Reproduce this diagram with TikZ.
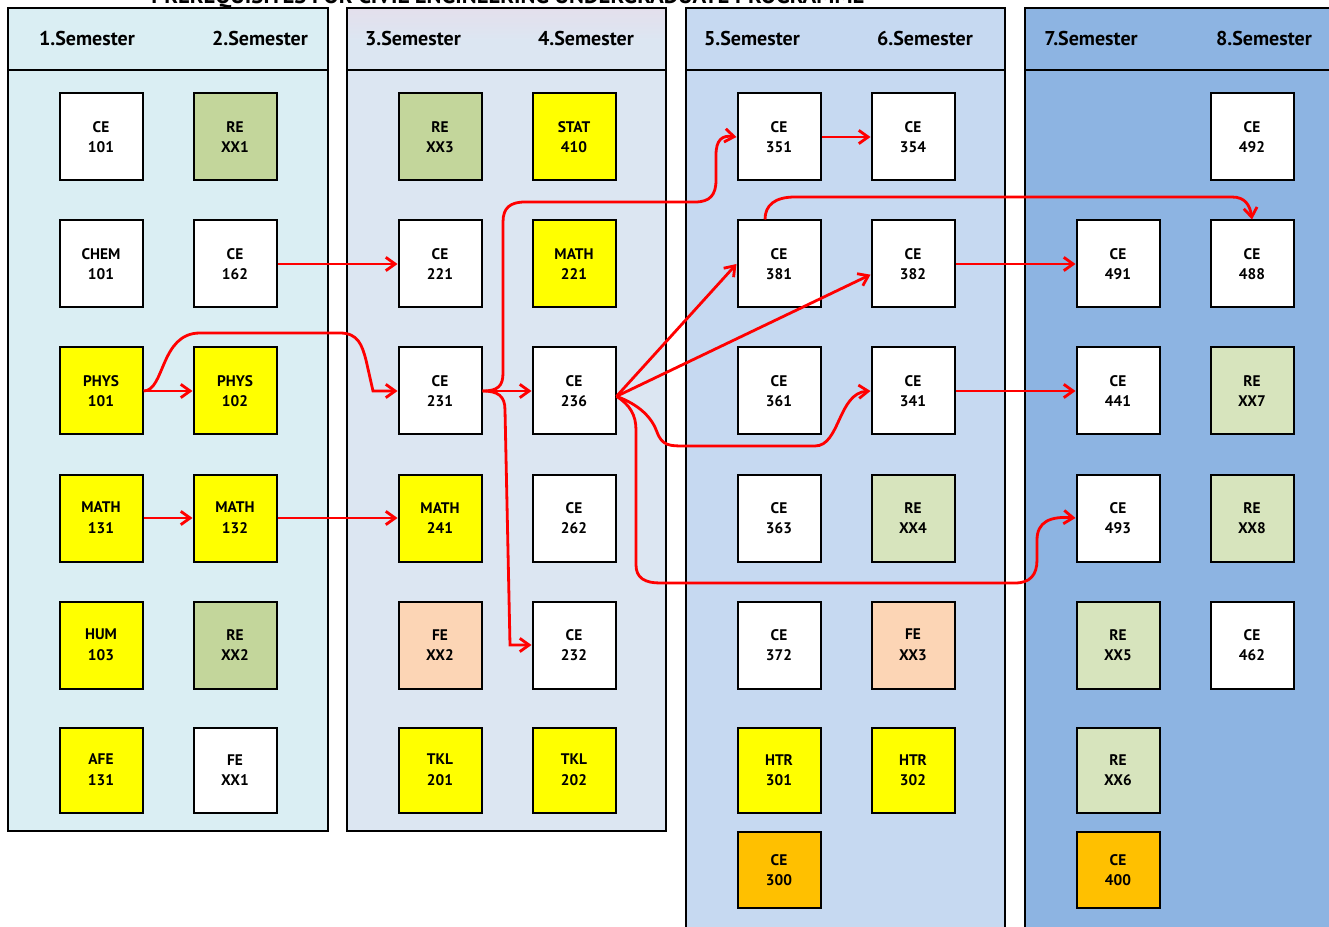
\documentclass[tikz,border=0pt]{standalone}
\usepackage{fontspec}
\setmainfont{PT Sans}
\usetikzlibrary{arrows.meta}
\definecolor{pA}{HTML}{DAEEF3}
\definecolor{pB}{HTML}{DCE6F2}
\definecolor{pBtop}{HTML}{E4DFEC}
\definecolor{pC}{HTML}{C6D9F1}
\definecolor{pD}{HTML}{8DB4E2}
\definecolor{cyel}{HTML}{FFFF00}
\definecolor{cgrA}{HTML}{C3D69B}
\definecolor{cgrB}{HTML}{D7E4BD}
\definecolor{cpea}{HTML}{FCD5B5}
\definecolor{cora}{HTML}{FFC000}
\definecolor{cred}{HTML}{FF0000}
\begin{document}
\begin{tikzpicture}[x=0.75pt,y=-0.75pt,
  panel/.style={draw=black, line width=1.5pt},
  semtext/.style={font=\bfseries\fontsize{15}{17}\selectfont, inner sep=0pt},
  course/.style={draw=black, line width=1.5pt, minimum width=62.25pt, minimum height=65.25pt,
    inner sep=0pt, align=center, font=\bfseries\fontsize{11.5}{15.5}\selectfont, fill=white},
  shortc/.style={course, minimum height=63.75pt},
  tinyc/.style={course, minimum height=57pt},
  conn/.style={draw=cred, line width=2.1pt, -{Straight Barb[length=7pt,width=10pt]}}]
\useasboundingbox (0,0) rectangle (1329,927);
\clip (0,0) rectangle (1329,927);
\fill[white] (0,0) rectangle (1329,927);
% title (cut off at the top, as in the reference)
\node[anchor=base, inner sep=0pt, font=\bfseries\fontsize{17}{19}\selectfont] (title) at (508,4) {PREREQUISITES FOR CIVIL ENGINEERING UNDERGRADUATE PROGRAMME};
% panels
\fill[pA] (8,8) rectangle (328,831);
\fill[pB] (347,8) rectangle (666,831);
\shade[top color=pBtop, bottom color=pB] (347,8) rectangle (666,40);
\fill[pC] (686,8) rectangle (1005,945);
\fill[pD] (1025,8) rectangle (1345,945);
\draw[panel] (8,8) rectangle (328,831) (8,70) -- (328,70);
\draw[panel] (347,8) rectangle (666,831) (347,70) -- (666,70);
\draw[panel] (686,945) -- (686,8) -- (1005,8) -- (1005,945) (686,70) -- (1005,70);
\draw[panel] (1025,945) -- (1025,8) -- (1345,8) (1025,70) -- (1345,70);
% semester headings
\node[semtext] (s1) at (87,39) {1.Semester};
\node[semtext] (s2) at (260,39) {2.Semester};
\node[semtext] (s3) at (413,39) {3.Semester};
\node[semtext] (s4) at (586,39) {4.Semester};
\node[semtext] (s5) at (752,39) {5.Semester};
\node[semtext] (s6) at (925,39) {6.Semester};
\node[semtext] (s7) at (1091,39) {7.Semester};
\node[semtext] (s8) at (1264,39) {8.Semester};
% column 1
\node[course] (ce101) at (101,137) {CE\\101};
\node[course] (chem101) at (101,264) {CHEM\\101};
\node[course, fill=cyel] (phys101) at (101,391) {PHYS\\101};
\node[course, fill=cyel] (math131) at (101,518) {MATH\\131};
\node[course, fill=cyel] (hum103) at (101,645) {HUM\\103};
\node[shortc, fill=cyel] (afe131) at (101,770) {AFE\\131};
% column 2
\node[course, fill=cgrA] (rexx1) at (235,137) {RE\\XX1};
\node[course] (ce162) at (235,264) {CE\\162};
\node[course, fill=cyel] (phys102) at (235,391) {PHYS\\102};
\node[course, fill=cyel] (math132) at (235,518) {MATH\\132};
\node[course, fill=cgrA] (rexx2) at (235,645) {RE\\XX2};
\node[shortc] (fexx1) at (235,770) {FE\\XX1};
% column 3
\node[course, fill=cgrA] (rexx3) at (440,137) {RE\\XX3};
\node[course] (ce221) at (440,264) {CE\\221};
\node[course] (ce231) at (440,391) {CE\\231};
\node[course, fill=cyel] (math241) at (440,518) {MATH\\241};
\node[course, fill=cpea] (fexx2) at (440,645) {FE\\XX2};
\node[shortc, fill=cyel] (tkl201) at (440,770) {TKL\\201};
% column 4
\node[course, fill=cyel] (stat410) at (574,137) {STAT\\410};
\node[course, fill=cyel] (math221) at (574,264) {MATH\\221};
\node[course] (ce236) at (574,391) {CE\\236};
\node[course] (ce262) at (574,518) {CE\\262};
\node[course] (ce232) at (574,645) {CE\\232};
\node[shortc, fill=cyel] (tkl202) at (574,770) {TKL\\202};
% column 5
\node[course] (ce351) at (779,137) {CE\\351};
\node[course] (ce381) at (779,264) {CE\\381};
\node[course] (ce361) at (779,391) {CE\\361};
\node[course] (ce363) at (779,518) {CE\\363};
\node[course] (ce372) at (779,645) {CE\\372};
\node[shortc, fill=cyel] (htr301) at (779,770) {HTR\\301};
\node[tinyc, fill=cora] (ce300) at (779,870) {CE\\300};
% column 6
\node[course] (ce354) at (913,137) {CE\\354};
\node[course] (ce382) at (913,264) {CE\\382};
\node[course] (ce341) at (913,391) {CE\\341};
\node[course, fill=cgrB] (rexx4) at (913,518) {RE\\XX4};
\node[course, fill=cpea] (fexx3) at (913,645) {FE\\XX3};
\node[shortc, fill=cyel] (htr302) at (913,770) {HTR\\302};
% column 7
\node[course] (ce491) at (1118,264) {CE\\491};
\node[course] (ce441) at (1118,391) {CE\\441};
\node[course] (ce493) at (1118,518) {CE\\493};
\node[course, fill=cgrB] (rexx5) at (1118,645) {RE\\XX5};
\node[shortc, fill=cgrB] (rexx6) at (1118,770) {RE\\XX6};
\node[tinyc, fill=cora] (ce400) at (1118,870) {CE\\400};
% column 8
\node[course] (ce492) at (1252,137) {CE\\492};
\node[course] (ce488) at (1252,264) {CE\\488};
\node[course, fill=cgrB] (rexx7) at (1252,391) {RE\\XX7};
\node[course, fill=cgrB] (rexx8) at (1252,518) {RE\\XX8};
\node[course] (ce462) at (1252,645) {CE\\462};
% connectors
\draw[conn] (ce162.east) -- (ce221.west);
\draw[conn] (phys101.east) -- (phys102.west);
\draw[conn] (math131.east) -- (math132.west);
\draw[conn] (math132.east) -- (math241.west);
\draw[conn] (ce231.east) -- (ce236.west);
\draw[conn] (ce351.east) -- (ce354.west);
\draw[conn] (ce382.east) -- (ce491.west);
\draw[conn] (ce341.east) -- (ce441.west);
\draw[conn] (phys101.east) .. controls (165,391) and (160,333) .. (200,333) -- (340,333)
  .. controls (358,333) and (362,345) .. (366,360) -- (373,391) -- (ce231.west);
\draw[conn] (ce231.east) .. controls (498,391) and (503,386) .. (503,373) -- (503,222)
  .. controls (503,208) and (510,202) .. (525,202) -- (695,202)
  .. controls (710,202) and (716,195) .. (716,180) -- (716,155)
  .. controls (716,140) and (722,135) .. (ce351.west);
\draw[conn] (ce231.east) .. controls (498,391) and (505,396) .. (505,410) -- (510,645) -- (ce232.west);
\draw[conn] ([xshift=-10.5pt]ce381.north) .. controls (765,205) and (775,197) .. (795,197) -- (1232,197)
  .. controls (1245,197) and (1250,205) .. (ce488.north);
\draw[conn] ([yshift=-4pt]ce236.east) -- (ce381.west);
\draw[conn] ([yshift=-4pt]ce236.east) -- ([yshift=-8pt]ce382.west);
\draw[conn] ([yshift=-4pt]ce236.east) .. controls (640,405) and (652,418) .. (657,432)
  .. controls (662,446) and (670,446) .. (685,446) -- (815,446)
  .. controls (840,446) and (838,393) .. (ce341.west);
\draw[conn] ([yshift=-4pt]ce236.east) .. controls (630,405) and (636,415) .. (636,430) -- (636,565)
  .. controls (636,578) and (645,583) .. (660,583) -- (1015,583)
  .. controls (1030,583) and (1037,575) .. (1037,560) -- (1037,540)
  .. controls (1037,522) and (1050,516) .. (ce493.west);
\end{tikzpicture}
\end{document}
